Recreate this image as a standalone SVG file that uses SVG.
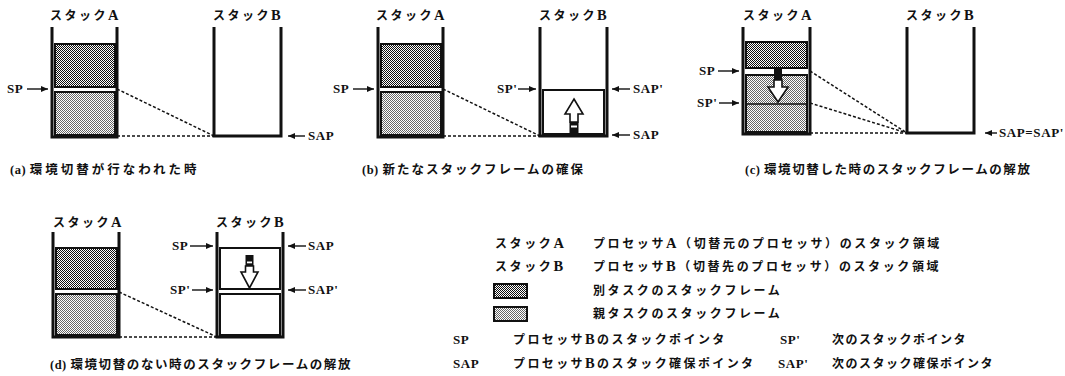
<svg xmlns="http://www.w3.org/2000/svg" width="1065" height="376" viewBox="0 0 1065 376">
<style>
text{font-family:"Liberation Serif","Noto Sans CJK JP",serif;font-weight:bold;fill:#111;}
.t{font-size:12px;letter-spacing:2.5px;}
.cap{font-size:12.5px;letter-spacing:2px;}
.lbl{font-size:13px;letter-spacing:0.6px;}
.lg{font-size:12px;letter-spacing:2.6px;}
.lg2{font-size:12px;letter-spacing:2.4px;}
.lg3{font-size:12px;letter-spacing:1.5px;}
.big{font-size:14.5px;}
.n{letter-spacing:0.5px;}
.wall{fill:none;stroke:#111;stroke-width:3;stroke-linejoin:miter;}
.fd{fill:url(#dk);stroke:#111;stroke-width:2;}
.fl{fill:url(#lt);stroke:#111;stroke-width:2;}
.fw{fill:#fff;stroke:#111;stroke-width:2;}
.ptr{stroke:#111;stroke-width:1.4;fill:none;marker-end:url(#ah);}
.dash{stroke:#111;stroke-width:1.5;stroke-dasharray:3 2;fill:none;}
.ha{fill:#fff;stroke:#111;stroke-width:1.6;stroke-linejoin:miter;}
</style>
<defs>
<pattern id="dk" width="2" height="2" patternUnits="userSpaceOnUse"><rect width="2" height="2" fill="#fff"/><rect width="1" height="1" fill="#111"/><rect x="1" y="1" width="1" height="1" fill="#111"/></pattern>
<pattern id="lt" width="2" height="2" patternUnits="userSpaceOnUse"><rect width="2" height="2" fill="#fff"/><rect width="1" height="1" fill="#666"/><rect x="1" y="1" width="1" height="1" fill="#666"/></pattern>
<marker id="ah" markerWidth="7" markerHeight="6" refX="7" refY="3" orient="auto" markerUnits="userSpaceOnUse"><path d="M0,0 L7,3 L0,6 z" fill="#111"/></marker>
</defs>
<rect width="1065" height="376" fill="#fff"/>

<g id="panel-a">
<text class="t" x="50" y="20">スタック<tspan class="big">A</tspan></text>
<text class="t" x="213" y="20">スタック<tspan class="big">B</tspan></text>
<polyline class="wall" points="52,27 52,137 117,137 117,27"/>
<rect class="fd" x="55" y="44" width="60" height="43"/>
<rect class="fl" x="55" y="92" width="60" height="43"/>
<polyline class="wall" points="214,27 214,136 281,136 281,27"/>
<text class="lbl" x="7" y="93">SP</text>
<text class="lbl" x="308" y="140">SAP</text>
<text class="cap" x="10" y="174" style="letter-spacing:3px"><tspan class="n">(a) </tspan>環境切替が行なわれた時</text>
</g>

<g id="panel-b">
<text class="t" x="376" y="20">スタック<tspan class="big">A</tspan></text>
<text class="t" x="539" y="20">スタック<tspan class="big">B</tspan></text>
<polyline class="wall" points="378,27 378,137 443,137 443,27"/>
<rect class="fd" x="381" y="44" width="60" height="43"/>
<rect class="fl" x="381" y="92" width="60" height="43"/>
<polyline class="wall" points="540,27 540,136 607,136 607,27"/>
<rect class="fw" x="543" y="90" width="61" height="44"/>
<polygon class="ha" points="574,99 583,114 578,114 578,122 570,122 570,114 565,114"/>
<rect x="569.5" y="122" width="9" height="13" fill="#111"/>
<rect x="571" y="125.5" width="6" height="2" fill="#fff"/>
<text class="lbl" x="333" y="93">SP</text>
<text class="lbl" x="497" y="93">SP'</text>
<text class="lbl" x="633" y="93">SAP'</text>
<text class="lbl" x="633" y="139">SAP</text>
<text class="cap" x="362" y="174"><tspan class="n">(b) </tspan>新たなスタックフレームの確保</text>
</g>

<g id="panel-c">
<text class="t" x="743" y="20">スタック<tspan class="big">A</tspan></text>
<text class="t" x="906" y="20">スタック<tspan class="big">B</tspan></text>
<polyline class="wall" points="743,27 743,134 810,134 810,27"/>
<rect class="fd" x="746" y="42" width="61" height="26"/>
<rect class="fl" x="746" y="75" width="61" height="57"/>
<line x1="746" y1="104" x2="807" y2="104" stroke="#111" stroke-width="1.5"/>
<rect x="774" y="69" width="8" height="11" fill="#111"/>
<polygon class="ha" points="774,80 782,80 782,87 788,87 778,102 768,87 774,87"/>
<polyline class="wall" points="907,27 907,133 974,133 974,27"/>
<text class="lbl" x="699" y="75">SP</text>
<text class="lbl" x="697" y="107">SP'</text>
<text class="lbl" x="999" y="137">SAP=SAP'</text>
<text class="cap" x="745" y="174" style="letter-spacing:1.6px"><tspan class="n">(c) </tspan>環境切替した時のスタックフレームの解放</text>
</g>

<g id="panel-d">
<text class="t" x="53" y="227">スタック<tspan class="big">A</tspan></text>
<text class="t" x="216" y="227">スタック<tspan class="big">B</tspan></text>
<polyline class="wall" points="53,232 53,337 119,337 119,232"/>
<rect class="fd" x="56" y="248" width="61" height="41"/>
<rect class="fl" x="56" y="294" width="61" height="41"/>
<polyline class="wall" points="217,232 217,337 283,337 283,232"/>
<rect class="fw" x="220" y="248" width="60" height="41"/>
<rect class="fw" x="220" y="294" width="60" height="41"/>
<rect x="245.5" y="255" width="8" height="11" fill="#111"/>
<rect x="247" y="261.5" width="5" height="1.8" fill="#fff"/>
<polygon class="ha" points="245.5,266 253.5,266 253.5,272 258,272 249.5,288 241,272 245.5,272"/>
<text class="lbl" x="172" y="250">SP</text>
<text class="lbl" x="170" y="294">SP'</text>
<text class="lbl" x="308" y="250">SAP</text>
<text class="lbl" x="308" y="294">SAP'</text>
<text class="cap" x="50" y="369" style="letter-spacing:1.6px"><tspan class="n">(d) </tspan>環境切替のない時のスタックフレームの解放</text>
</g>

<g id="legend">
<text class="lg" x="495" y="248">スタック<tspan class="big">A</tspan></text>
<text class="lg" x="593" y="248">プロセッサ<tspan class="big">A</tspan>（切替元のプロセッサ）のスタック領域</text>
<text class="lg" x="495" y="271">スタック<tspan class="big">B</tspan></text>
<text class="lg" x="593" y="271">プロセッサ<tspan class="big">B</tspan>（切替先のプロセッサ）のスタック領域</text>
<rect class="fd" x="494" y="284" width="33" height="14"/>
<text class="lg" x="593" y="295">別タスクのスタックフレーム</text>
<rect class="fl" x="494" y="307" width="33" height="14"/>
<text class="lg" x="593" y="318">親タスクのスタックフレーム</text>
<text class="lbl" x="453" y="344">SP</text>
<text class="lg2" x="513" y="344">プロセッサ<tspan class="big">B</tspan>のスタックポインタ</text>
<text class="lbl" x="780" y="344">SP'</text>
<text class="lg3" x="832" y="344">次のスタックポインタ</text>
<text class="lbl" x="453" y="368">SAP</text>
<text class="lg2" x="513" y="368">プロセッサ<tspan class="big">B</tspan>のスタック確保ポインタ</text>
<text class="lbl" x="778" y="368">SAP'</text>
<text class="lg3" x="832" y="368">次のスタック確保ポインタ</text>
</g>

<g id="connectors">
<line class="ptr" x1="27" y1="89" x2="48" y2="89"/>
<line class="ptr" x1="305" y1="136" x2="288" y2="136"/>
<line class="dash" x1="117" y1="89" x2="214" y2="136"/>
<line class="dash" x1="117" y1="136" x2="214" y2="136"/>
<line class="ptr" x1="353" y1="89" x2="374" y2="89"/>
<line class="ptr" x1="518" y1="89" x2="536" y2="89"/>
<line class="ptr" x1="630" y1="89" x2="612" y2="89"/>
<line class="ptr" x1="630" y1="135" x2="612" y2="135"/>
<line class="dash" x1="443" y1="89" x2="540" y2="136"/>
<line class="dash" x1="443" y1="136" x2="540" y2="136"/>
<line class="ptr" x1="718" y1="71" x2="739" y2="71"/>
<line class="ptr" x1="719" y1="103" x2="739" y2="103"/>
<line class="ptr" x1="997" y1="133" x2="985" y2="133"/>
<line class="dash" x1="810" y1="71" x2="907" y2="133"/>
<line class="dash" x1="810" y1="103" x2="907" y2="133"/>
<line class="dash" x1="810" y1="133" x2="907" y2="133"/>
<line class="ptr" x1="190" y1="246" x2="213" y2="246"/>
<line class="ptr" x1="192" y1="290" x2="213" y2="290"/>
<line class="ptr" x1="306" y1="246" x2="288" y2="246"/>
<line class="ptr" x1="306" y1="290" x2="288" y2="290"/>
<line class="dash" x1="119" y1="292" x2="217" y2="337"/>
<line class="dash" x1="119" y1="337" x2="217" y2="337"/>
</g>
</svg>
